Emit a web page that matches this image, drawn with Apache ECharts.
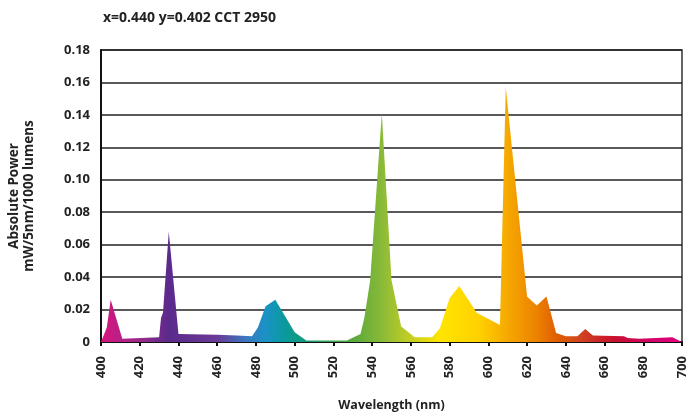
<!DOCTYPE html>
<html>
<head>
<meta charset="utf-8">
<script src="https://cdn.jsdelivr.net/npm/echarts@6/dist/echarts.min.js"></script>
<style>html,body{margin:0;padding:0;background:#fff}#c{width:689px;height:416px}</style>
</head>
<body>
<div id="c"></div>
<script>
var titleText = 'x=0.440 y=0.402 CCT 2950';
var wavelengths = [400,403,405,411,430,431,432,435,440,460,470,478,481,485,490,495,500,506,527,534,536,539,545,550,555,562,571,575,580,585,594,606,609,620,625,630,635,640,646,650,654,670,672,678,679,695,700];
var power = [0,0.009,0.026,0.002,0.003,0.015,0.018,0.068,0.005,0.0045,0.004,0.0035,0.009,0.022,0.026,0.016,0.006,0.001,0.001,0.005,0.015,0.038,0.141,0.038,0.0095,0.003,0.003,0.0085,0.027,0.0345,0.018,0.0105,0.157,0.028,0.0225,0.028,0.0055,0.0035,0.0035,0.008,0.004,0.0035,0.0025,0.002,0.003,0.003,0];
var xTicks = [400,420,440,460,480,500,520,540,560,580,600,620,640,660,680,700];
var yTicks = [0,0.02,0.04,0.06,0.08,0.10,0.12,0.14,0.16,0.18];

var stops = [
  [400,'#d8147f'],[420,'#9a2a8a'],[435,'#5a2a8c'],[460,'#6a3a98'],[475,'#3a78c0'],
  [485,'#1a92c6'],[495,'#0a9a9c'],[505,'#129a78'],[530,'#58a83c'],[545,'#8aba38'],
  [560,'#c6cf22'],[575,'#ffe400'],[595,'#ffd200'],[610,'#f6a800'],[625,'#ec8200'],
  [635,'#e06000'],[648,'#d04222'],[665,'#c8102e'],[685,'#d4006a'],[700,'#e2007c']
];
var data = wavelengths.map(function(w,i){return [w, power[i]];});
var font = '"Open Sans", "DejaVu Sans", sans-serif';
var chart = echarts.init(document.getElementById('c'));
chart.setOption({
  animation: false,
  title: {text: titleText, left: 98, top: 6, textStyle: {fontFamily: font, fontSize: 14, fontWeight: 'bold', color: '#222'}},
  grid: {left: 101, right: 7, top: 50, bottom: 74, outerBoundsMode: 'none', containLabel: false,
    show: true, borderColor: '#333', borderWidth: 1.5, backgroundColor: 'transparent'},
  xAxis: {
    type: 'value', min: 400, max: 700, interval: 20,
    name: 'Wavelength (nm)', nameLocation: 'middle', nameGap: 57,
    nameTextStyle: {fontFamily: font, fontSize: 12.5, fontWeight: 'bold', color: '#222'},
    axisLine: {show: true, lineStyle: {color: '#111', width: 2}},
    axisTick: {show: true, length: 4, lineStyle: {color: '#111', width: 2}},
    axisLabel: {rotate: 90, margin: 14, fontFamily: font, fontSize: 13, fontWeight: 'bold', color: '#222',
      customValues: xTicks},
    splitLine: {show: false}
  },
  yAxis: {
    type: 'value', min: 0, max: 0.18, interval: 0.02,
    name: 'Absolute Power\nmW/5nm/1000 lumens', nameLocation: 'middle', nameGap: 64,
    nameTextStyle: {fontFamily: font, fontSize: 13.5, fontWeight: 'bold', color: '#222', lineHeight: 15},
    axisLine: {show: true, lineStyle: {color: '#111', width: 2}},
    axisTick: {show: false},
    axisLabel: {margin: 11, fontFamily: font, fontSize: 13, fontWeight: 'bold', color: '#222',
      formatter: function(v){ return v === 0 ? '0' : v.toFixed(2); }},
    splitLine: {show: true, lineStyle: {color: '#222', width: 1.5}}
  },
  series: [{
    type: 'line', data: data, showSymbol: false, symbol: 'none',
    lineStyle: {width: 0},
    areaStyle: {opacity: 1, color: new echarts.graphic.LinearGradient(0,0,1,0,
      stops.map(function(s){return {offset: (s[0]-400)/300, color: s[1]};}))},
    z: 1
  }]
});
</script>
</body>
</html>
